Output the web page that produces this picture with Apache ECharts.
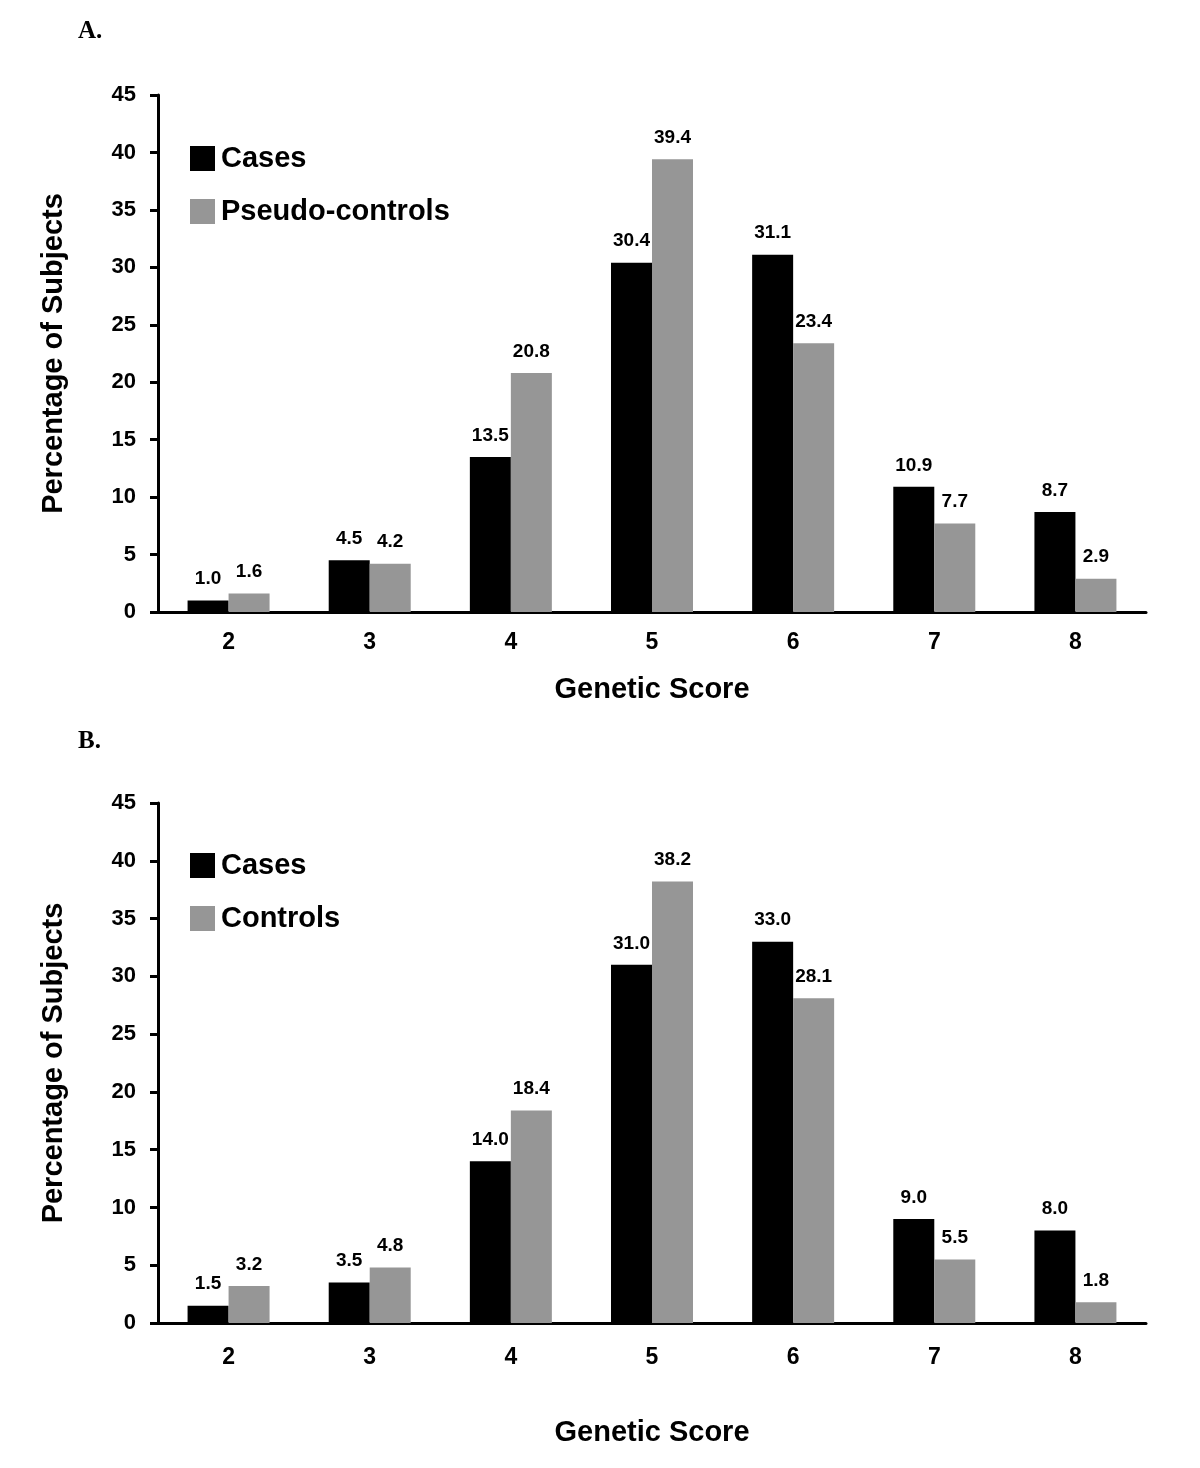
<!DOCTYPE html>
<html><head><meta charset="utf-8">
<script src="https://cdn.jsdelivr.net/npm/echarts@6/dist/echarts.min.js"></script>
<style>html,body{margin:0;padding:0;background:#fff}#c{width:1200px;height:1468px}</style>
</head><body><div id="c"></div>
<script>
const categories = ['2','3','4','5','6','7','8'];
const casesA = [1.0, 4.5, 13.5, 30.4, 31.1, 10.9, 8.7];
const pseudoA = [1.6, 4.2, 20.8, 39.4, 23.4, 7.7, 2.9];
const casesB = [1.5, 3.5, 14.0, 31.0, 33.0, 9.0, 8.0];
const controlsB = [3.2, 4.8, 18.4, 38.2, 28.1, 5.5, 1.8];
const yTicks = {min: 0, max: 45, interval: 5};

const FONT = 'Liberation Sans, Arial, sans-serif';
const chart = echarts.init(document.getElementById('c'), null, {renderer: 'canvas'});

function xAxis(gi, margin, nameGap) {
  return {
    type: 'category', gridIndex: gi, data: categories,
    axisLine: {lineStyle: {color: '#000', width: 3}},
    axisTick: {show: false},
    axisLabel: {color: '#000', fontSize: 23, fontWeight: 'bold', fontFamily: FONT, margin: margin},
    name: 'Genetic Score', nameLocation: 'middle', nameGap: nameGap,
    nameTextStyle: {color: '#000', fontSize: 29, fontWeight: 'bold', fontFamily: FONT}
  };
}
function yAxis(gi) {
  return {
    type: 'value', gridIndex: gi, min: yTicks.min, max: yTicks.max, interval: yTicks.interval,
    axisLine: {show: true, lineStyle: {color: '#000', width: 3}},
    axisTick: {show: true, length: 8, lineStyle: {color: '#000', width: 3}},
    splitLine: {show: false},
    axisLabel: {color: '#000', fontSize: 22, fontWeight: 'bold', fontFamily: FONT, margin: 22},
    name: 'Percentage of Subjects', nameLocation: 'middle', nameGap: 90,
    nameTextStyle: {color: '#000', fontSize: 29, fontWeight: 'bold', fontFamily: FONT}
  };
}
function bar(name, data, color, gi) {
  return {
    type: 'bar', name: name, data: data, xAxisIndex: gi, yAxisIndex: gi,
    barWidth: 41, barGap: '0%', itemStyle: {color: color},
    label: {show: true, position: 'top', distance: 12, color: '#000', fontSize: 19, fontWeight: 'bold', fontFamily: FONT,
      formatter: p => p.value.toFixed(1)}
  };
}
function legend(top, data) {
  return {
    left: 190, top: top, padding: 0, orient: 'vertical', itemWidth: 25, itemHeight: 25, itemGap: 24,
    data: data, icon: 'rect', selectedMode: false,
    textStyle: {color: '#000', fontSize: 29, fontWeight: 'bold', fontFamily: FONT, padding: [0,0,0,1]}
  };
}
chart.setOption({
  animation: false,
  backgroundColor: '#fff',
  title: [
    {text: 'A.', left: 73, top: 14, textStyle: {fontFamily: 'Liberation Serif, Times New Roman, serif', fontWeight: 'bold', fontSize: 25, color: '#000'}},
    {text: 'B.', left: 73, top: 724, textStyle: {fontFamily: 'Liberation Serif, Times New Roman, serif', fontWeight: 'bold', fontSize: 25, color: '#000'}}
  ],
  legend: [legend(144, ['Cases', 'Pseudo-controls']), legend(851, ['Cases', 'Controls'])],
  grid: [
    {left: 158, right: 54, top: 95, height: 517},
    {left: 158, right: 54, top: 803, height: 520}
  ],
  xAxis: [xAxis(0, 19, 63), xAxis(1, 23, 95)],
  yAxis: [yAxis(0), yAxis(1)],
  series: [
    bar('Cases', casesA, '#000', 0),
    bar('Pseudo-controls', pseudoA, '#969696', 0),
    bar('Cases', casesB, '#000', 1),
    bar('Controls', controlsB, '#969696', 1)
  ]
});
</script></body></html>
